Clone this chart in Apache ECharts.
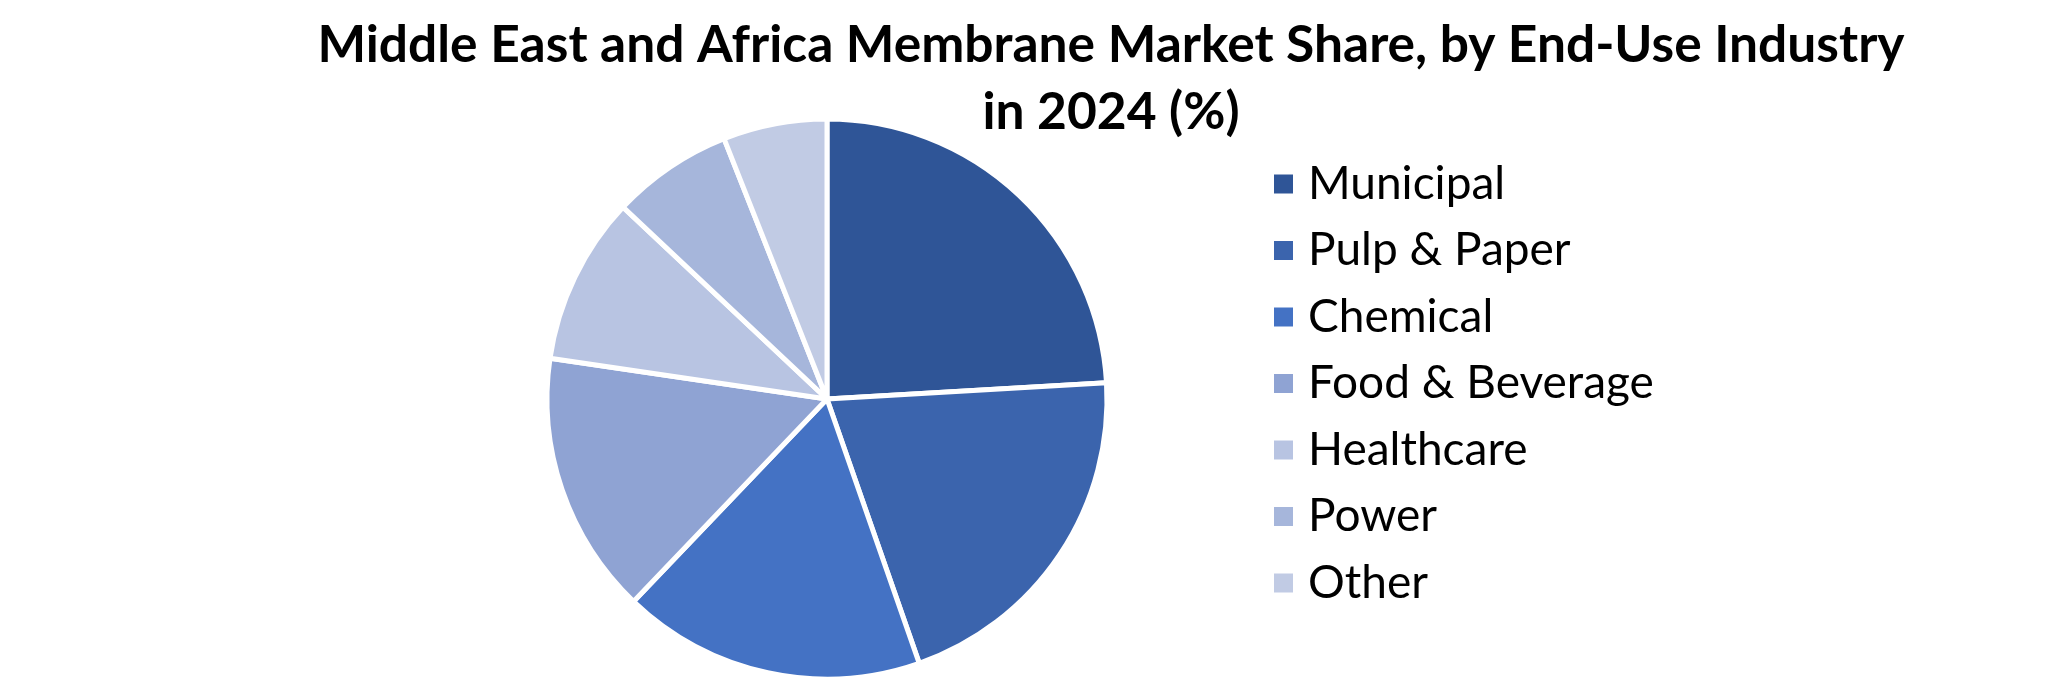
<!DOCTYPE html>
<html>
<head>
<meta charset="utf-8">
<title>Middle East and Africa Membrane Market Share</title>
<script src="https://cdn.jsdelivr.net/npm/echarts@6/dist/echarts.min.js"></script>
<style>
  html, body { margin: 0; padding: 0; background: #fff; }
  #chart { width: 2068px; height: 682px; }
</style>
</head>
<body>
<div id="chart"></div>
<script>
var industries = ['Municipal', 'Pulp & Paper', 'Chemical', 'Food & Beverage', 'Healthcare', 'Power', 'Other'];
var shares = [24.1, 20.6, 17.5, 15.2, 9.7, 7.0, 6.0];
var sliceColors = ['#2f5597', '#3b64ad', '#4472c4', '#8fa3d3', '#b8c4e2', '#a6b6db', '#c1cbe4'];

var chart = echarts.init(document.getElementById('chart'));

var pieData = [];
for (var i = 0; i < industries.length; i++) {
    pieData.push({
        name: industries[i],
        value: shares[i],
        itemStyle: { color: sliceColors[i] }
    });
}

chart.setOption({
    animation: false,
    backgroundColor: '#ffffff',
    title: {
        text: 'Middle East and Africa Membrane Market Share, by End-Use Industry\nin 2024 (%)',
        left: 1106,
        top: 7,
        textAlign: 'center',
        textStyle: {
            fontFamily: 'Lato',
            fontWeight: 'bold',
            fontSize: 51.5,
            lineHeight: 67,
            color: '#000000'
        }
    },
    legend: {
        orient: 'vertical',
        left: 1267,
        top: 154,
        icon: 'rect',
        itemWidth: 21,
        itemHeight: 21,
        itemGap: 16.5,
        data: industries,
        textStyle: {
            fontFamily: 'Lato',
            fontSize: 46,
            lineHeight: 50,
            color: '#000000',
            padding: [0, 0, 0, 9]
        }
    },
    series: [{
        type: 'pie',
        center: [827, 399],
        radius: 280,
        startAngle: 90,
        clockwise: true,
        label: { show: false },
        labelLine: { show: false },
        emphasis: { disabled: true },
        itemStyle: { borderColor: '#ffffff', borderWidth: 5 },
        data: pieData
    }]
});
</script>
</body>
</html>
